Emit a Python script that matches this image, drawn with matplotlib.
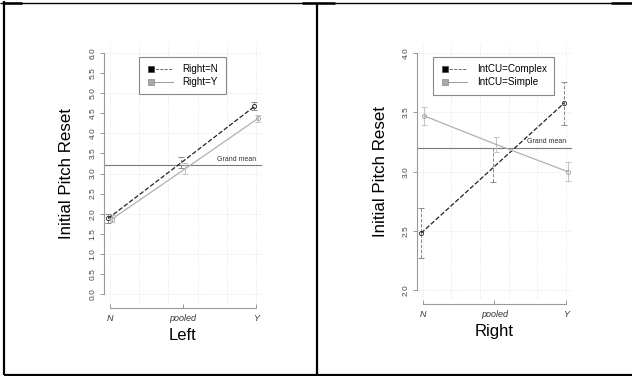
import matplotlib
matplotlib.use("Agg")
import matplotlib.pyplot as plt
from matplotlib.lines import Line2D
from matplotlib.legend_handler import HandlerLine2D

plt.rcParams['font.family'] = ['Liberation Sans', 'DejaVu Sans']

levels = ["N", "pooled", "Y"]
pos = [0.0, 0.5, 1.0]
grand_mean = 3.2

# links: Initial Pitch Reset nach Left, getrennt nach Right
left_rn = [1.88, 3.27, 4.67]
left_rn_lo = [1.76, 3.13, 4.57]
left_rn_hi = [1.99, 3.42, 4.78]
left_ry = [1.86, 3.11, 4.37]
left_ry_lo = [1.78, 2.98, 4.29]
left_ry_hi = [1.96, 3.25, 4.46]

# rechts: nach Right, getrennt nach IntCU
right_cx = [2.48, 3.03, 3.58]
right_cx_lo = [2.27, 2.91, 3.39]
right_cx_hi = [2.69, 3.20, 3.76]
right_si = [3.47, 3.23, 3.00]
right_si_lo = [3.39, 3.17, 2.92]
right_si_hi = [3.55, 3.29, 3.08]


class SquareFirst(HandlerLine2D):
    # quadrat links, linie rechts davon (wie in R)
    def create_artists(self, legend, orig_handle, xdescent, ydescent, width,
                       height, fontsize, trans):
        arts = super().create_artists(legend, orig_handle, xdescent, ydescent,
                                      width, height, fontsize, trans)
        for a in arts:
            xd = list(a.get_xdata())
            xd[0] = xd[0] + 0.45 * fontsize
            xd[1] = (xd[0] + xd[-1]) / 2
            a.set_xdata(xd)
            a.set_markevery([0])
        return arts


def draw_group(ax, vals, lo, hi, dx, dark):
    x = [p + dx for p in pos]
    err = [[v - l for v, l in zip(vals, lo)], [h - v for v, h in zip(vals, hi)]]
    if dark:
        lc, ec, ls = '#222222', '#8a8a8a', '--'
    else:
        lc, ec, ls = '#b0b0b0', '#c4c4c4', '-'
    eb = ax.errorbar(x, vals, yerr=err, fmt='none', ecolor=ec, elinewidth=0.7,
                     capsize=2.2, capthick=0.7, zorder=2)
    eb.lines[2][0].set_linestyle(ls)
    ax.plot(x, vals, ls=ls, color=lc, lw=0.9, marker='o', mfc='none', ms=3,
            mew=0.6, mec=lc if dark else '#a0a0a0', markevery=[0, 2], zorder=3)


def setup(ax, ylo, yhi, yticks, ygrid, xlabel, labels, leg_x):
    yr = yhi - ylo
    ax.set_xlim(-0.04, 1.04)
    ax.set_ylim(ylo - 0.04 * yr, yhi + 0.04 * yr)
    for g in [0.0, 0.2, 0.4, 0.6, 0.8, 1.0]:
        ax.axvline(g, color='#d8d8d8', lw=0.5, ls=':', zorder=0)
    for g in ygrid:
        ax.axhline(g, color='#d8d8d8', lw=0.5, ls=':', zorder=0)
    ax.axhline(grand_mean, color='#7a7a7a', lw=0.8, zorder=1)
    ax.text(1.0, grand_mean + 0.012 * yr, "Grand mean", fontsize=5,
            ha='right', va='bottom', color='#333333')

    for s in ['top', 'right']:
        ax.spines[s].set_visible(False)
    ax.spines['left'].set_bounds(ylo, yhi)
    ax.spines['bottom'].set_bounds(0, 1)
    ax.spines['bottom'].set_position(('outward', 3))
    for s in ['left', 'bottom']:
        ax.spines[s].set_color('#999999')
        ax.spines[s].set_linewidth(0.8)

    ax.set_yticks(yticks)
    ax.set_yticklabels(["%.1f" % t for t in yticks], rotation=90,
                       va='center', fontsize=6, color='#444444')
    ax.tick_params(axis='y', length=3, width=0.7, color='#999999', pad=2.5)
    ax.set_xticks(pos)
    ax.set_xticklabels(levels, fontsize=6.5, style='italic', color='#333333')
    ax.tick_params(axis='x', direction='in', length=3, width=0.7,
                   color='#999999', pad=4.5)

    ax.set_ylabel("Initial Pitch Reset", fontsize=12.2)
    ax.yaxis.set_label_coords(-0.19, 0.5)
    ax.set_xlabel(xlabel, fontsize=12)
    ax.xaxis.set_label_coords(0.5, -0.095)

    h1 = Line2D([], [], color='#555555', ls='--', lw=0.6, marker='s', ms=5,
                mfc='black', mec='#444444', mew=0.5)
    h2 = Line2D([], [], color='#999999', ls='-', lw=0.7, marker='s', ms=5,
                mfc='#a8a8a8', mec='#888888', mew=0.5)
    leg = ax.legend([h1, h2], labels, loc='upper left',
                    bbox_to_anchor=(leg_x, 0.948), borderaxespad=0,
                    fontsize=7.1, handlelength=2.7, handletextpad=1.0,
                    borderpad=0.75, labelspacing=0.28, fancybox=False,
                    framealpha=1, edgecolor='#888888',
                    handler_map={h1: SquareFirst(numpoints=1),
                                 h2: SquareFirst(numpoints=1)})
    leg.get_frame().set_linewidth(0.8)


fig = plt.figure(figsize=(6.32, 3.76), dpi=100)

ax1 = fig.add_axes([104 / 632, 1 - 303.6 / 376, 158 / 632, 260.2 / 376])
draw_group(ax1, left_rn, left_rn_lo, left_rn_hi, -0.012, True)
draw_group(ax1, left_ry, left_ry_lo, left_ry_hi, 0.012, False)
setup(ax1, 0.0, 6.0, [i * 0.5 for i in range(13)], range(7), "Left",
      ["Right=N", "Right=Y"], 0.22)

ax2 = fig.add_axes([417 / 632, 1 - 299.5 / 376, 154.7 / 632, 255.7 / 376])
draw_group(ax2, right_cx, right_cx_lo, right_cx_hi, -0.012, True)
draw_group(ax2, right_si, right_si_lo, right_si_hi, 0.012, False)
setup(ax2, 2.0, 4.0, [2.0, 2.5, 3.0, 3.5, 4.0], [2.0, 2.5, 3.0, 3.5, 4.0],
      "Right", ["IntCU=Complex", "IntCU=Simple"], 0.103)


# tabellenrahmen
def fline(x0, y0, x1, y1, w):
    fig.add_artist(Line2D([x0 / 632, x1 / 632], [1 - y0 / 376, 1 - y1 / 376],
                          color='black', lw=w, solid_capstyle='butt'))


fline(4, 1, 4, 375, 1.6)
fline(0, 2.5, 632, 2.5, 1.0)
fline(4, 2.5, 22, 2.5, 1.8)
fline(302, 2.5, 335, 2.5, 1.8)
fline(611, 2.5, 632, 2.5, 1.8)
fline(316.8, 2.5, 316.8, 375, 1.6)
fline(4, 375, 632, 375, 1.6)

fig.savefig("out.png", dpi=100)
